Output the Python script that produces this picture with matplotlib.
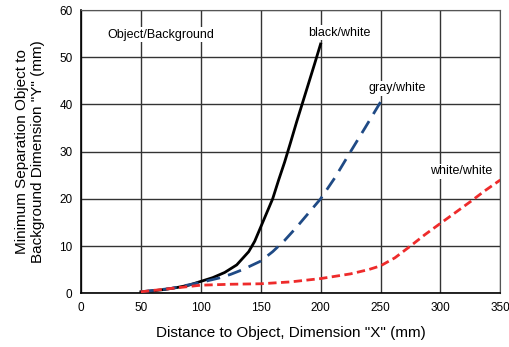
import matplotlib.pyplot as plt

plt.rcParams['font.family'] = ['Liberation Sans', 'DejaVu Sans']

# data
x_black = [50, 60, 70, 80, 90, 100, 110, 120, 130, 140, 145, 150, 155, 160,
           165, 170, 175, 180, 185, 190, 195, 200]
y_black = [0.3, 0.5, 0.8, 1.2, 1.7, 2.5, 3.3, 4.4, 6.0, 8.8, 11, 14, 17, 20,
           24, 27.8, 32, 36.3, 40.4, 44.5, 48.6, 52.8]

x_gray = [50, 75, 100, 115, 125, 135, 150, 160, 170, 180, 190, 200, 212, 225, 237, 250]
y_gray = [0.3, 1.0, 2.3, 3.2, 4.0, 5.0, 6.8, 8.8, 11.2, 14, 17, 20, 24.5, 30, 35, 40.5]

x_white = [50, 75, 100, 125, 150, 175, 200, 225, 240, 250, 262, 275, 287, 300,
           312, 325, 337, 350]
y_white = [0.3, 1.0, 1.7, 1.9, 2.0, 2.4, 3.1, 4.1, 5.0, 5.8, 7.5, 10, 12.4, 14.8,
           17, 19.4, 21.7, 24]

x_ticks = [0, 50, 100, 150, 200, 250, 300, 350]
y_ticks = [0, 10, 20, 30, 40, 50, 60]

fig = plt.figure(figsize=(5.09, 3.47), dpi=100)
ax = fig.add_axes([0.159, 0.155, 0.824, 0.816])

ax.plot(x_black, y_black, color="black", linewidth=2, zorder=3)
ax.plot(x_gray, y_gray, color="#1f4a85", linewidth=2, linestyle=(0, (5, 3)), zorder=3)
ax.plot(x_white, y_white, color="#ee2b2b", linewidth=2, linestyle=(0, (3, 1.6)), zorder=3)

ax.set_xlim(0, 350)
ax.set_ylim(0, 60)
ax.set_xticks(x_ticks)
ax.set_yticks(y_ticks)
ax.tick_params(length=0, labelsize=8.5, pad=6)
ax.grid(True, color="#333333", linewidth=1)
ax.set_axisbelow(True)
for s in ["top", "right"]:
    ax.spines[s].set_color("#555555")
ax.spines["left"].set_linewidth(1.2)
ax.spines["bottom"].set_linewidth(1.2)

box = dict(facecolor="white", edgecolor="none", pad=1)
ax.text(67, 54.8, "Object/Background", fontsize=9, ha="center", va="center", bbox=box, zorder=4)
ax.text(216, 55.2, "black/white", fontsize=9, ha="center", va="center", bbox=box, zorder=4)
ax.text(264, 43.4, "gray/white", fontsize=9, ha="center", va="center", bbox=box, zorder=4)
ax.text(317, 25.8, "white/white", fontsize=9, ha="center", va="center", bbox=box, zorder=4)

ax.set_xlabel('Distance to Object, Dimension "X" (mm)', fontsize=11, labelpad=9)
ax.set_ylabel('Minimum Separation Object to\nBackground Dimension "Y" (mm)', fontsize=11, labelpad=10)

fig.savefig("out.png", dpi=100)
